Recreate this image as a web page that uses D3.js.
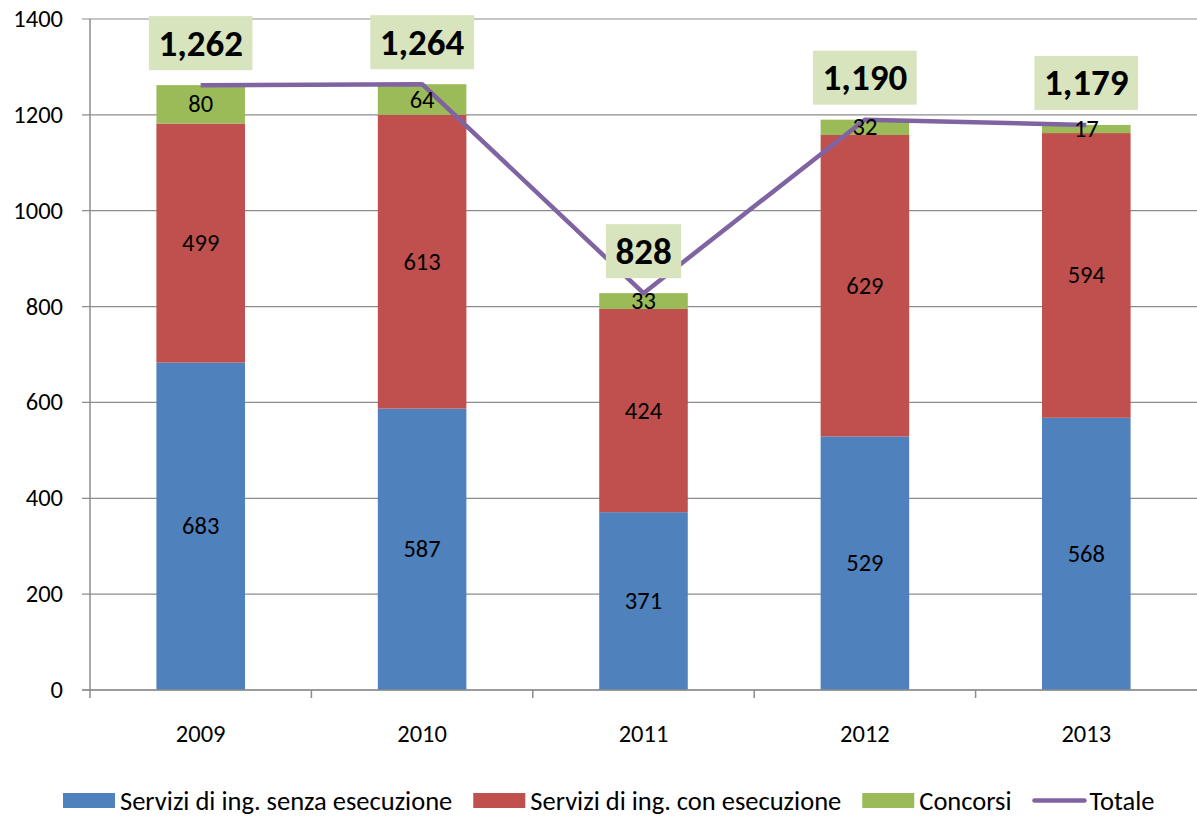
<!DOCTYPE html>
<html>
<head>
<meta charset="utf-8">
<script src="https://cdn.jsdelivr.net/npm/d3@7"></script>
<style>
  body { margin: 0; background: #fff; }
  text { font-family: Carlito, Lato, "Open Sans", sans-serif; }
</style>
</head>
<body>
<div id="chart"></div>
<script>
const years = ['2009', '2010', '2011', '2012', '2013']
const senza = [683, 587, 371, 529, 568]
const conEsec = [499, 613, 424, 629, 594]
const concorsi = [80, 64, 33, 32, 17]
const totale = [1262, 1264, 828, 1190, 1179]
const yTicks = [0, 200, 400, 600, 800, 1000, 1200, 1400]
const seriesNames = ['Servizi di ing. senza esecuzione', 'Servizi di ing. con esecuzione', 'Concorsi']
const totalName = 'Totale'
const colors = ['#4F81BD', '#C0504D', '#9BBB59']
const lineColor = '#8064A2'

const width = 1197, height = 816
const margin = ({top: 19, right: 0, bottom: 126, left: 90})

const rows = years.map((y, i) => ({year: y, s0: senza[i], s1: conEsec[i], s2: concorsi[i], tot: totale[i]}))
const stack = d3.stack().keys(['s0', 's1', 's2'])(rows)

const x = d3.scaleBand().domain(years).range([margin.left, width - margin.right]).padding(0)
const y = d3.scaleLinear().domain([0, 1400]).range([height - margin.bottom, margin.top])

const svg = d3.select('#chart').append('svg')
    .attr('width', width)
    .attr('height', height)

// grid lines
svg.append('g')
  .selectAll('line')
  .data(yTicks)
  .join('line')
    .attr('x1', margin.left - 8)
    .attr('x2', width)
    .attr('y1', d => y(d))
    .attr('y2', d => y(d))
    .attr('stroke', '#8c8c8c')
    .attr('stroke-width', 1.2)

// y labels
svg.append('g')
  .selectAll('text')
  .data(yTicks)
  .join('text')
    .attr('x', margin.left - 27)
    .attr('y', d => y(d))
    .attr('text-anchor', 'end')
    .attr('dominant-baseline', 'central')
    .attr('font-size', 24.5)
    .text(d => d)

// bars
const bw = x.bandwidth() * 0.4
svg.append('g')
  .selectAll('g')
  .data(stack)
  .join('g')
    .attr('fill', (d, i) => colors[i])
  .selectAll('rect')
  .data(d => d)
  .join('rect')
    .attr('x', d => x(d.data.year) + (x.bandwidth() - bw) / 2)
    .attr('width', bw)
    .attr('y', d => y(d[1]))
    .attr('height', d => y(d[0]) - y(d[1]))

// axis lines
svg.append('line')
    .attr('x1', margin.left).attr('x2', margin.left)
    .attr('y1', y(1400)).attr('y2', y(0) + 8)
    .attr('stroke', '#8c8c8c').attr('stroke-width', 1.5)
svg.append('line')
    .attr('x1', margin.left - 8).attr('x2', width)
    .attr('y1', y(0)).attr('y2', y(0))
    .attr('stroke', '#8c8c8c').attr('stroke-width', 1.5)
svg.append('g')
  .selectAll('line')
  .data(years.slice(1))
  .join('line')
    .attr('x1', d => x(d)).attr('x2', d => x(d))
    .attr('y1', y(0)).attr('y2', y(0) + 8)
    .attr('stroke', '#8c8c8c').attr('stroke-width', 1.5)

// x labels
svg.append('g')
  .selectAll('text')
  .data(years)
  .join('text')
    .attr('x', d => x(d) + x.bandwidth() / 2)
    .attr('y', y(0) + 44)
    .attr('text-anchor', 'middle')
    .attr('dominant-baseline', 'central')
    .attr('font-size', 24.5)
    .text(d => d)

// total line
const line = d3.line()
    .x(d => x(d.year) + x.bandwidth() / 2)
    .y(d => y(d.tot))
svg.append('path')
    .datum(rows)
    .attr('d', line)
    .attr('fill', 'none')
    .attr('stroke', lineColor)
    .attr('stroke-width', 4.5)
    .attr('stroke-linejoin', 'round')

// segment labels
svg.append('g')
  .selectAll('g')
  .data(stack)
  .join('g')
  .selectAll('text')
  .data(d => d)
  .join('text')
    .attr('x', d => x(d.data.year) + x.bandwidth() / 2)
    .attr('y', d => (y(d[0]) + y(d[1])) / 2)
    .attr('text-anchor', 'middle')
    .attr('dominant-baseline', 'central')
    .attr('font-size', 24.5)
    .text(d => d[1] - d[0])

// total labels with boxes
const fmt = d3.format(',')
const tl = svg.append('g')
  .selectAll('g')
  .data(rows)
  .join('g')
    .attr('transform', d => `translate(${x(d.year) + x.bandwidth() / 2},${y(d.tot) - 42})`)
tl.append('text')
    .attr('text-anchor', 'middle')
    .attr('dominant-baseline', 'central')
    .attr('font-size', 37)
    .attr('font-weight', 'bold')
    .text(d => fmt(d.tot))
tl.each(function() {
  const g = d3.select(this)
  const bb = g.select('text').node().getBBox()
  g.insert('rect', 'text')
    .attr('x', bb.x - 9.5)
    .attr('y', -27)
    .attr('width', bb.width + 19)
    .attr('height', 54)
    .attr('fill', '#D7E4BD')
})

// legend
const legItems = seriesNames.map((n, i) => ({name: n, color: colors[i], type: 'rect'}))
  .concat([{name: totalName, color: lineColor, type: 'line'}])
const legY = 800.5
const leg = svg.append('g')
let lx = 63
legItems.forEach(d => {
  const sw = 52
  if (d.type === 'rect') {
    leg.append('rect').attr('x', lx).attr('y', legY - 7.5).attr('width', sw).attr('height', 15).attr('fill', d.color)
  } else {
    leg.append('line').attr('x1', lx + 2).attr('x2', lx + sw).attr('y1', legY).attr('y2', legY)
      .attr('stroke', d.color).attr('stroke-width', 4.5).attr('stroke-linecap', 'round')
  }
  const t = leg.append('text').attr('x', lx + sw + 5).attr('y', legY)
    .attr('dominant-baseline', 'central').attr('font-size', 26.5).text(d.name)
  lx += sw + 5 + t.node().getComputedTextLength() + 21
})
</script>
</body>
</html>
